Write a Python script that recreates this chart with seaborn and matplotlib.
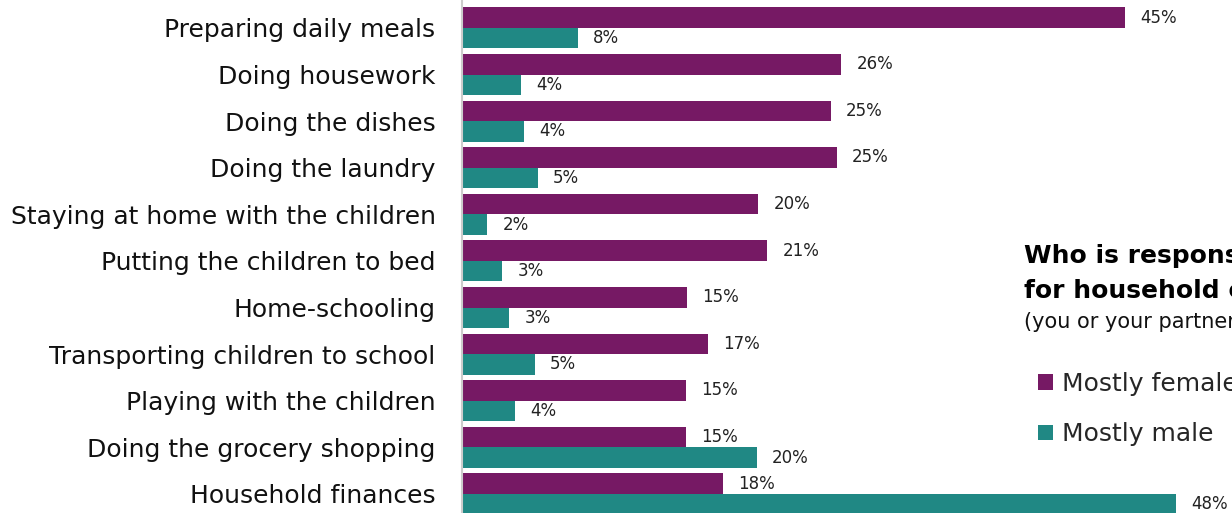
import numpy as np
import pandas as pd
import matplotlib
matplotlib.use('Agg')
import matplotlib.pyplot as plt
import seaborn as sns
from matplotlib.patches import Patch

# data (share of respondents, %)
tasks = ['Preparing daily meals', 'Doing housework', 'Doing the dishes',
	'Doing the laundry', 'Staying at home with the children',
	'Putting the children to bed', 'Home-schooling',
	'Transporting children to school', 'Playing with the children',
	'Doing the grocery shopping', 'Household finances']
female = [44.8, 25.6, 24.9, 25.3, 20.0, 20.6, 15.2, 16.6, 15.1, 15.1, 17.6]
male = [7.8, 4.0, 4.2, 5.1, 1.7, 2.7, 3.2, 4.9, 3.6, 19.9, 48.2]
groups = ['Mostly female', 'Mostly male']
colors = ['#761964', '#208884']

df = pd.DataFrame({
	'task': tasks * 2,
	'share': female + male,
	'who': [groups[0]] * len(tasks) + [groups[1]] * len(tasks),
})

sns.set_style('white')
plt.rcParams['font.family'] = ['DejaVu Sans']

fig = plt.figure(figsize=(12.32, 5.13), dpi=100)
ax = fig.add_axes([462 / 1232, 0, 770 / 1232, 1])

sns.barplot(data=df, y='task', x='share', hue='who', orient='h',
	palette=colors, saturation=1, width=0.88, linewidth=0,
	legend=False, ax=ax)

for cont in ax.containers:
	vals = [b.get_width() for b in cont]
	ax.bar_label(cont, labels=[f'{v:.0f}%' for v in vals],
		padding=11, fontsize=12, color='#222222')

ax.set_xlim(0, 52.0)
ax.set_ylim(10.41, -0.6)
ax.set_xlabel('')
ax.set_ylabel('')
ax.set_xticks([])
ax.tick_params(axis='y', length=0, pad=19, labelsize=18, labelcolor='#111111')
for s in ['top', 'right', 'bottom']:
	ax.spines[s].set_visible(False)
ax.spines['left'].set_color('#cccccc')
ax.spines['left'].set_linewidth(1.5)

# title block on the right (cut by the figure edge, as in the original)
fig.text(1024 / 1232, 1 - 263 / 513, 'Who is responsible', fontsize=18,
	fontweight='bold', va='baseline', ha='left', color='#000000')
fig.text(1024 / 1232, 1 - 298 / 513, 'for household chores?', fontsize=18,
	fontweight='bold', va='baseline', ha='left', color='#000000')
fig.text(1024 / 1232, 1 - 328 / 513, '(you or your partner)', fontsize=15,
	va='baseline', ha='left', color='#111111')

handles = [Patch(facecolor=c, edgecolor='none', label=g) for c, g in zip(colors, groups)]
ax.legend(handles=handles, loc='upper left',
	bbox_to_anchor=(1038 / 1232, 1 - 372 / 513), bbox_transform=fig.transFigure,
	frameon=False, fontsize=18, handlelength=0.6, handleheight=0.6,
	handletextpad=0.35, labelspacing=1.05, borderpad=0, borderaxespad=0)

fig.savefig('out.png', dpi=100)
